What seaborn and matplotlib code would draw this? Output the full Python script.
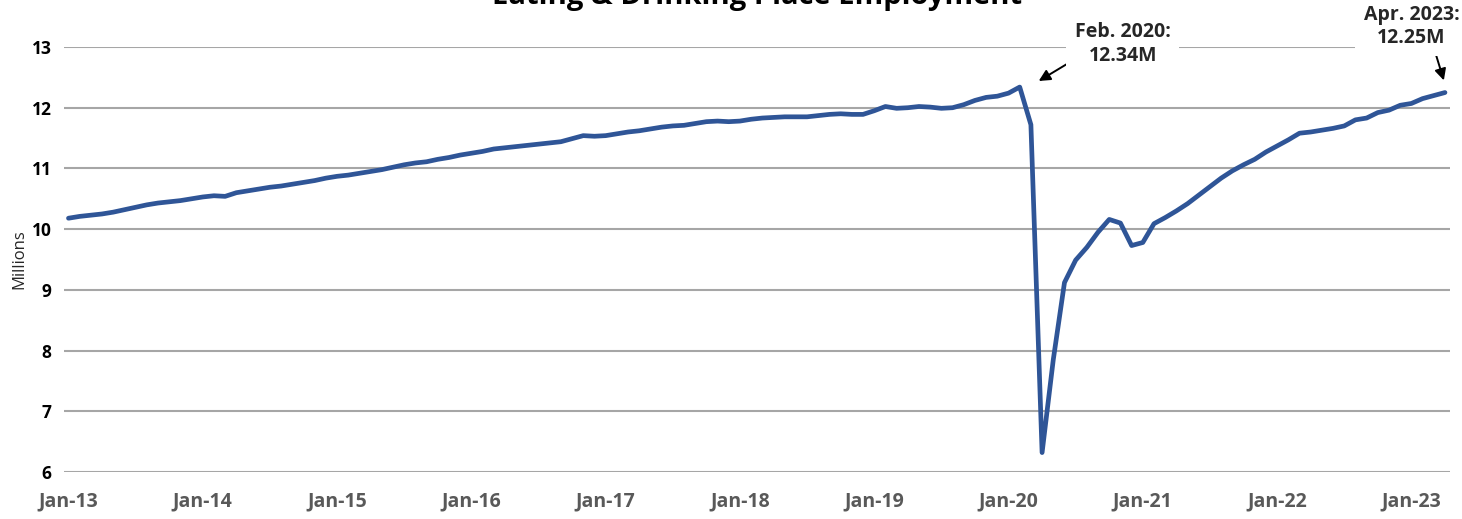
import numpy as np
import pandas as pd
import matplotlib
matplotlib.use("Agg")
import matplotlib.pyplot as plt
import seaborn as sns

# Monthly employment at eating & drinking places, millions (Jan 2013 - Apr 2023)
emp_2013 = [10.18, 10.21, 10.23, 10.25, 10.28, 10.32, 10.36, 10.40, 10.43, 10.45, 10.47, 10.50]
emp_2014 = [10.53, 10.55, 10.54, 10.60, 10.63, 10.66, 10.69, 10.71, 10.74, 10.77, 10.80, 10.84]
emp_2015 = [10.87, 10.89, 10.92, 10.95, 10.98, 11.02, 11.06, 11.09, 11.11, 11.15, 11.18, 11.22]
emp_2016 = [11.25, 11.28, 11.32, 11.34, 11.36, 11.38, 11.40, 11.42, 11.44, 11.49, 11.54, 11.53]
emp_2017 = [11.54, 11.57, 11.60, 11.62, 11.65, 11.68, 11.70, 11.71, 11.74, 11.77, 11.78, 11.77]
emp_2018 = [11.78, 11.81, 11.83, 11.84, 11.85, 11.85, 11.85, 11.87, 11.89, 11.90, 11.89, 11.89]
emp_2019 = [11.95, 12.02, 11.99, 12.00, 12.02, 12.01, 11.99, 12.00, 12.05, 12.12, 12.17, 12.19]
emp_2020 = [12.24, 12.34, 11.72, 6.32, 7.85, 9.12, 9.49, 9.70, 9.95, 10.16, 10.10, 9.73]
emp_2021 = [9.78, 10.09, 10.19, 10.30, 10.42, 10.56, 10.70, 10.84, 10.96, 11.06, 11.15, 11.27]
emp_2022 = [11.37, 11.47, 11.58, 11.60, 11.63, 11.66, 11.70, 11.80, 11.83, 11.92, 11.96, 12.04]
emp_2023 = [12.07, 12.15, 12.20, 12.25]

employment = (emp_2013 + emp_2014 + emp_2015 + emp_2016 + emp_2017 + emp_2018
              + emp_2019 + emp_2020 + emp_2021 + emp_2022 + emp_2023)
months = pd.date_range("2013-01-01", periods=len(employment), freq="MS")
y_ticks = [6, 7, 8, 9, 10, 11, 12, 13]

title = "Eating & Drinking Place Employment"
peak_month = pd.Timestamp("2020-02-01")
latest_month = pd.Timestamp("2023-04-01")

df = pd.DataFrame({"pos": np.arange(len(employment)), "month": months, "emp": employment})

sns.set_theme(style="white")
plt.rcParams["font.family"] = ["Open Sans", "DejaVu Sans"]

fig = plt.figure(figsize=(14.62, 5.19), dpi=100)
ax = fig.add_axes([64 / 1462, 1 - 472 / 519, (1450 - 64) / 1462, (472 - 47) / 519])

ax.set_ylim(6, 13)
ax.set_xlim(-0.4, len(employment) - 1 + 0.45)
ax.set_yticks(y_ticks)
ax.yaxis.grid(True, color="#A6A6A6", linewidth=1.5, zorder=0)
ax.xaxis.grid(False)
for s in ax.spines.values():
    s.set_visible(False)

sns.lineplot(data=df, x="pos", y="emp", ax=ax, color="#2F5597", linewidth=3.4, zorder=3)

jan = df[df["month"].dt.month == 1]
ax.set_xticks(jan["pos"].tolist())
ax.set_xticklabels([m.strftime("%b-%y") for m in jan["month"]],
                   fontsize=14, fontweight="bold", color="#595959")
ax.set_yticklabels([str(v) for v in y_ticks], fontsize=12.5, fontweight="bold", color="black")
ax.tick_params(axis="both", length=0)
ax.tick_params(axis="x", pad=14)
ax.tick_params(axis="y", pad=9)
ax.set_xlabel("")
ax.set_ylabel("Millions", fontsize=12, color="#262626", labelpad=3)


def callout(month):
    row = df[df["month"] == month].iloc[0]
    return row["pos"], row["emp"], f"{month.strftime('%b')}. {month.year}:\n{row['emp']:.2f}M"


box = dict(boxstyle="square,pad=0.45", fc="white", ec="none")
arrow = dict(arrowstyle="-|>", color="black", lw=1.4, mutation_scale=17, shrinkA=0, shrinkB=0)

# Pre-pandemic peak
p, v, lbl = callout(peak_month)
ax.annotate("", xy=(p + 1.7, v + 0.1), xytext=(p + 5.3, v + 0.5),
            arrowprops=arrow, annotation_clip=False, zorder=5)
ax.text(p + 9.2, v + 0.71, lbl, ha="center", va="center", fontsize=14,
        fontweight="bold", linespacing=1.25, bbox=box, zorder=6, clip_on=False)

# Latest month
p, v, lbl = callout(latest_month)
ax.annotate("", xy=(p - 0.1, v + 0.2), xytext=(p - 0.8, v + 0.62),
            arrowprops=arrow, annotation_clip=False, zorder=5)
ax.text(p - 3.0, v + 0.74, lbl, ha="center", va="bottom", fontsize=14,
        fontweight="bold", linespacing=1.2, bbox=box, zorder=6, clip_on=False)

fig.text(757 / 1462, 1 - 4 / 519, title, ha="center", va="baseline",
         fontsize=21, fontweight="bold", color="black")

fig.savefig("out.png", dpi=100, facecolor="white")
